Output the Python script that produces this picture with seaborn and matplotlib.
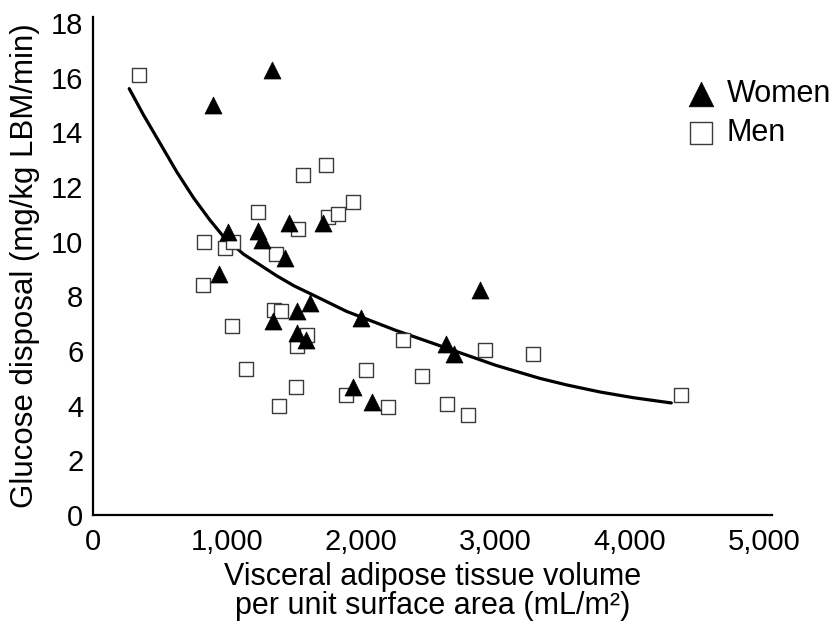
import matplotlib
matplotlib.use("Agg")
import matplotlib.pyplot as plt
import seaborn as sns
import pandas as pd

# ---- data ----
women_x = [892, 939, 1008, 1227, 1262, 1332, 1344, 1431, 1460, 1518,
           1523, 1587, 1617, 1716, 1940, 1997, 2077, 2630, 2692, 2884]
women_y = [15.0, 8.8, 10.35, 10.4, 10.05, 16.3, 7.1, 9.4, 10.7, 7.45,
           6.65, 6.4, 7.75, 10.7, 4.7, 7.2, 4.15, 6.25, 5.9, 8.25]

men_x = [340, 817, 827, 984, 1038, 1046, 1138, 1232, 1351, 1364, 1386,
         1401, 1513, 1518, 1530, 1567, 1592, 1734, 1749, 1828, 1885, 1940,
         2032, 2196, 2312, 2449, 2641, 2792, 2921, 3276, 4381]
men_y = [16.1, 8.4, 10.0, 9.78, 6.9, 10.0, 5.35, 11.1, 7.5, 9.55, 4.0,
         7.45, 4.7, 6.2, 10.45, 12.45, 6.6, 12.8, 10.9, 11.0, 4.4, 11.45,
         5.3, 3.95, 6.4, 5.1, 4.05, 3.65, 6.05, 5.9, 4.4]

curve_x = [270, 375, 500, 625, 750, 870, 970, 1120, 1370, 1500, 1640, 1890,
           2260, 2640, 3000, 3330, 3530, 3780, 4030, 4310]
curve_y = [15.6, 14.65, 13.6, 12.55, 11.6, 10.8, 10.2, 9.55, 8.75, 8.38,
           8.05, 7.45, 6.75, 6.1, 5.48, 5.0, 4.76, 4.5, 4.29, 4.1]

x_ticks = [0, 1000, 2000, 3000, 4000, 5000]
x_tick_labels = ["0", "1,000", "2,000", "3,000", "4,000", "5,000"]
y_ticks = [0, 2, 4, 6, 8, 10, 12, 14, 16, 18]

series_labels = ["Women", "Men"]
x_label = "Visceral adipose tissue volume\nper unit surface area (mL/m\u00b2)"
y_label = "Glucose disposal (mg/kg LBM/min)"

# ---- style ----
sns.set_style("white")
plt.rcParams["font.family"] = ["Liberation Sans", "DejaVu Sans"]
plt.rcParams["text.color"] = "black"
plt.rcParams["axes.labelcolor"] = "black"
plt.rcParams["xtick.color"] = "black"
plt.rcParams["ytick.color"] = "black"

fig = plt.figure(figsize=(8.4, 6.26), dpi=100)
ax = fig.add_axes([0.1107, 0.1773, 0.8083, 0.7955])

women = pd.DataFrame({"x": women_x, "y": women_y})
men = pd.DataFrame({"x": men_x, "y": men_y})
curve = pd.DataFrame({"x": curve_x, "y": curve_y})

sns.lineplot(data=curve, x="x", y="y", ax=ax, color="black", linewidth=2.3,
             sort=False, zorder=1, legend=False)
sns.scatterplot(data=men, x="x", y="y", ax=ax, marker="s", s=115,
                facecolor="white", edgecolor="#3a3a3a", linewidth=1.0,
                zorder=2, label=series_labels[1])
sns.scatterplot(data=women, x="x", y="y", ax=ax, marker="^", s=150,
                color="black", edgecolor="black", linewidth=0.5,
                zorder=3, label=series_labels[0])

ax.set_xlim(0, 5060)
ax.set_ylim(0, 18.22)
ax.set_xticks(x_ticks)
ax.set_xticklabels(x_tick_labels)
ax.set_yticks(y_ticks)
ax.set_yticklabels([str(v) for v in y_ticks])

for side in ["top", "right"]:
    ax.spines[side].set_visible(False)
for side in ["left", "bottom"]:
    ax.spines[side].set_linewidth(1.6)
    ax.spines[side].set_color("black")

ax.tick_params(axis="both", direction="in", length=13, width=1.4,
               labelsize=21, colors="black", labelcolor="black")
ax.tick_params(axis="x", pad=9)
ax.tick_params(axis="y", pad=7)

ax.set_xlabel(x_label, fontsize=22, linespacing=0.95, labelpad=5,
              color="black")
ax.set_ylabel(y_label, fontsize=22.5, labelpad=8, color="black")

handles, labels = ax.get_legend_handles_labels()
order = [labels.index(series_labels[0]), labels.index(series_labels[1])]
leg = ax.legend([handles[i] for i in order], [labels[i] for i in order],
                loc="upper left", bbox_to_anchor=(0.855, 0.90), frameon=False,
                fontsize=22, markerscale=1.45, handlelength=1.0,
                handletextpad=0.35, labelspacing=0.3, borderaxespad=0)
for t in leg.get_texts():
    t.set_color("black")

fig.savefig("out.png", dpi=100)
